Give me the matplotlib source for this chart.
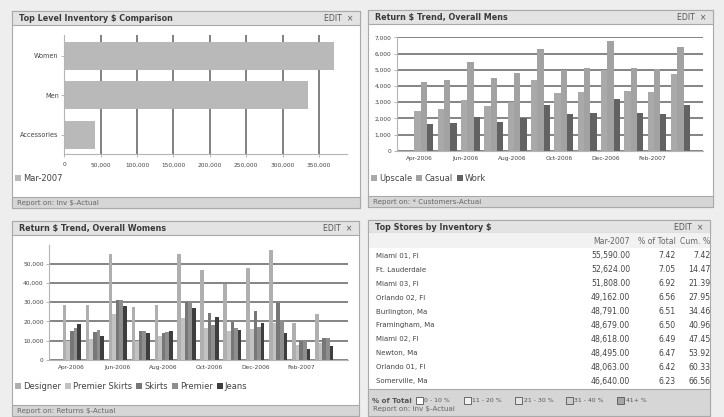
import matplotlib
matplotlib.use("Agg")
import matplotlib.pyplot as plt
from matplotlib.patches import Rectangle
from matplotlib.ticker import FuncFormatter
from matplotlib.transforms import Bbox, TransformedBbox
import numpy as np

W, H = 724, 417

# ---- Top level inventory (horizontal bars) ----
top_categories = ["Accessories", "Men", "Women"]
top_inventory = [42300, 334700, 370500]
top_series = "Mar-2007"

# ---- Monthly returns ----
months = ["Apr-2006", "May-2006", "Jun-2006", "Jul-2006", "Aug-2006", "Sep-2006",
          "Oct-2006", "Nov-2006", "Dec-2006", "Jan-2007", "Feb-2007", "Mar-2007"]

mens_upscale = [2450, 2550, 3150, 2750, 3000, 4350, 3550, 3650, 5000, 3700, 3650, 4750]
mens_casual = [4250, 4350, 5450, 4500, 4800, 6300, 5000, 5100, 6750, 5100, 5050, 6400]
mens_work = [1650, 1700, 2100, 1800, 2000, 2800, 2250, 2300, 3200, 2300, 2250, 2850]

womens_designer = [28300, 28300, 55100, 27300, 28300, 55100, 46800, 39700, 48000, 57000, 18900, 24000]
womens_premier_skirts = [10000, 11000, 23800, 10000, 12200, 21700, 16300, 15000, 16000, 19000, 7700, 8500]
womens_skirts = [14800, 14400, 31300, 14800, 13900, 29900, 24300, 19800, 25200, 29800, 9900, 11300]
womens_premier = [16500, 15300, 31300, 15100, 14400, 29900, 18000, 16800, 17200, 20500, 9800, 11300]
womens_jeans = [18600, 12500, 28200, 13900, 14800, 27000, 22400, 15500, 19000, 14000, 5800, 7300]

# ---- Top stores table ----
stores = ["Miami 01, Fl", "Ft. Lauderdale", "Miami 03, Fl", "Orlando 02, Fl",
          "Burlington, Ma", "Framingham, Ma", "Miami 02, Fl", "Newton, Ma",
          "Orlando 01, Fl", "Somerville, Ma"]
store_inventory = [55590.00, 52624.00, 51808.00, 49162.00, 48791.00,
                   48679.00, 48618.00, 48495.00, 48063.00, 46640.00]
store_pct = [7.42, 7.05, 6.92, 6.56, 6.51, 6.50, 6.49, 6.47, 6.42, 6.23]
store_cum = [7.42, 14.47, 21.39, 27.95, 34.46, 40.96, 47.45, 53.92, 60.33, 66.56]
table_columns = ["Mar-2007", "% of Total", "Cum. %"]
band_labels = ["0 - 10 %", "11 - 20 %", "21 - 30 %", "31 - 40 %", "41+ %"]
band_fills = ["#ffffff", "#f2f2f2", "#e4e4e4", "#cccccc", "#a6a6a6"]

plt.rcParams["font.family"] = ["DejaVu Sans"]

fig = plt.figure(figsize=(7.24, 4.17), dpi=100)
fig.patch.set_facecolor("#eeeeee")

bg = fig.add_axes([0, 0, 1, 1])
bg.set_xlim(0, W)
bg.set_ylim(H, 0)
bg.axis("off")

TXT = "#444444"


def axes_px(left, top, right, bottom):
    return fig.add_axes([left / W, 1 - bottom / H, (right - left) / W, (bottom - top) / H])


def panel(x0, y0, x1, y1, title, footer, hdr=14, ftr=11, footer_y=None):
    bg.add_patch(Rectangle((x0, y0), x1 - x0, y1 - y0, fc="white", ec="#a9a9a9", lw=0.8))
    bg.add_patch(Rectangle((x0, y0), x1 - x0, hdr, fc="#e3e3e3", ec="#a9a9a9", lw=0.8))
    bg.add_patch(Rectangle((x0, y1 - ftr), x1 - x0, ftr, fc="#d6d6d6", ec="#a9a9a9", lw=0.8))
    bg.text(x0 + 7, y0 + hdr / 2 + 0.5, title, fontsize=5.8, fontweight="bold",
            color="#3a3a3a", ha="left", va="center")
    bg.text(x1 - 7, y0 + hdr / 2 + 0.5, "EDIT  \u00d7", fontsize=5.6, color="#555555",
            ha="right", va="center")
    fy = y1 - ftr / 2 if footer_y is None else footer_y
    bg.text(x0 + 5, fy, footer, fontsize=5.1, color="#666666", ha="left", va="center")


def style(ax):
    ax.set_facecolor("none")
    for name, sp in ax.spines.items():
        if name in ("left", "bottom"):
            sp.set_color("#b5b5b5")
            sp.set_linewidth(0.8)
        else:
            sp.set_visible(False)
    ax.tick_params(labelsize=4.2, labelcolor=TXT, length=2, width=0.6, color="#aaaaaa", pad=2)
    ax.set_axisbelow(True)


thousands = FuncFormatter(lambda v, p: f"{v:,.0f}")


def legend_at(ax, handles, labels, x, y):
    ax.legend(handles, labels, loc="center left", bbox_to_anchor=(x / W, 1 - y / H),
              bbox_transform=fig.transFigure, ncol=len(labels), frameon=False,
              fontsize=6.0, handlelength=0.7, handleheight=0.7, handletextpad=0.25,
              columnspacing=0.5, borderpad=0, borderaxespad=0, labelcolor=TXT)


# ===== Panel 1: Top Level Inventory $ Comparison =====
panel(12, 11, 360, 208, "Top Level Inventory $ Comparison", "Report on: Inv $-Actual")
ax1 = axes_px(64.3, 35, 346.7, 154)
style(ax1)
ypos = np.arange(len(top_categories))
b1 = ax1.barh(ypos, top_inventory, height=0.71, color="#b9b9b9", linewidth=0)
ax1.set_yticks(ypos, top_categories)
ax1.set_ylim(-0.49, 2.52)
ax1.set_xlim(0, 388000)
ax1.set_xticks(np.arange(0, 350001, 50000))
ax1.xaxis.set_major_formatter(thousands)
ax1.xaxis.grid(True, color="#6c6c6c", linewidth=1.2)
ax1.tick_params(axis="y", labelsize=4.7)
ax1.tick_params(axis="x", pad=4)
legend_at(ax1, [b1], [top_series], 15, 178.5)

# ===== Panel 2: Return $ Trend, Overall Mens =====
panel(368, 10, 713, 207, "Return $ Trend, Overall Mens", "Report on: * Customers-Actual")
ax2 = axes_px(397, 37.3, 703, 150.7)
style(ax2)
x = np.arange(len(months))
bw = 0.27
h_up = ax2.bar(x - bw, mens_upscale, bw, color="#a9a9a9", linewidth=0)
h_ca = ax2.bar(x, mens_casual, bw, color="#a2a2a2", linewidth=0)
h_wo = ax2.bar(x + bw, mens_work, bw, color="#626262", linewidth=0)
ax2.set_xlim(-1.15, 11.97)
ax2.set_ylim(0, 7000)
ax2.set_yticks(np.arange(0, 7001, 1000))
ax2.yaxis.set_major_formatter(thousands)
ax2.yaxis.grid(True, color="#707070", linewidth=1.2)
ax2.set_xticks(x[::2] - 0.2, months[::2])
ax2.tick_params(axis="x", length=0, pad=4)
legend_at(ax2, [h_up, h_ca, h_wo], ["Upscale", "Casual", "Work"], 371, 178.3)

# ===== Panel 3: Return $ Trend, Overall Womens =====
panel(12, 221, 359, 416, "Return $ Trend, Overall Womens", "Report on: Returns $-Actual")
ax3 = axes_px(49.3, 244.7, 348.3, 359.7)
style(ax3)
series_w = [womens_designer, womens_premier_skirts, womens_skirts, womens_premier, womens_jeans]
names_w = ["Designer", "Premier Skirts", "Skirts", "Premier", "Jeans"]
colors_w = ["#afafaf", "#c2c2c2", "#777777", "#8e8e8e", "#3e3e3e"]
bw3 = 0.158
handles_w = []
for k, (vals, col) in enumerate(zip(series_w, colors_w)):
    handles_w.append(ax3.bar(x + (k - 2) * bw3, vals, bw3, color=col, linewidth=0))
ax3.set_xlim(-0.98, 12.05)
ax3.set_ylim(0, 60000)
ax3.set_yticks(np.arange(0, 50001, 10000))
ax3.yaxis.set_major_formatter(thousands)
ax3.yaxis.grid(True, color="#707070", linewidth=1.2)
ax3.set_xticks(x[::2], months[::2])
ax3.tick_params(axis="x", length=0, pad=4)
legend_at(ax3, handles_w, names_w, 15, 386.3)

# ===== Panel 4: Top Stores by Inventory $ =====
p4x0, p4y0, p4x1, p4y1 = 368, 220, 710, 416
panel(p4x0, p4y0, p4x1, p4y1, "Top Stores by Inventory $", "Report on: Inv $-Actual",
      hdr=13, ftr=27, footer_y=408.5)
bg.add_patch(Rectangle((p4x0 + 0.5, 233), p4x1 - p4x0 - 1, 14.5, fc="#f2f2f2", lw=0))

# the last column runs past the panel edge and is cut off there
table_clip = TransformedBbox(Bbox([[p4x0, p4y0], [p4x1 - 0.5, p4y1]]), bg.transData)


def cell(xp, yp, s, size, color, ha):
    t = bg.text(xp, yp, s, fontsize=size, color=color, ha=ha, va="center")
    t.set_clip_on(True)
    t.set_clip_box(table_clip)
    return t


hdr_y = 241
cell(630, hdr_y, table_columns[0], 5.6, "#666666", "right")
cell(675.5, hdr_y, table_columns[1], 5.6, "#666666", "right")
cell(680, hdr_y, table_columns[2], 5.6, "#666666", "left")

row0, row_step = 255.7, 13.96
for i, store in enumerate(stores):
    ry = row0 + i * row_step
    cell(375.5, ry, store, 5.0, TXT, "left")
    cell(630, ry, f"{store_inventory[i]:,.2f}", 5.6, TXT, "right")
    cell(675.5, ry, f"{store_pct[i]:.2f}", 5.6, TXT, "right")
    cell(710.5, ry, f"{store_cum[i]:.2f}", 5.6, TXT, "right")

leg_y = 400.7
bg.text(372, leg_y, "% of Total", fontsize=5.1, fontweight="bold", color="#555555",
        ha="left", va="center")
box_x = [416, 463.5, 515, 566, 617]
for bx, lab, fc in zip(box_x, band_labels, band_fills):
    bg.add_patch(Rectangle((bx, leg_y - 3.6), 7, 7, fc=fc, ec="#555555", lw=0.6))
    bg.text(bx + 8.5, leg_y, lab, fontsize=4.4, color="#555555", ha="left", va="center")

fig.savefig("out.png", dpi=100, facecolor=fig.get_facecolor())
